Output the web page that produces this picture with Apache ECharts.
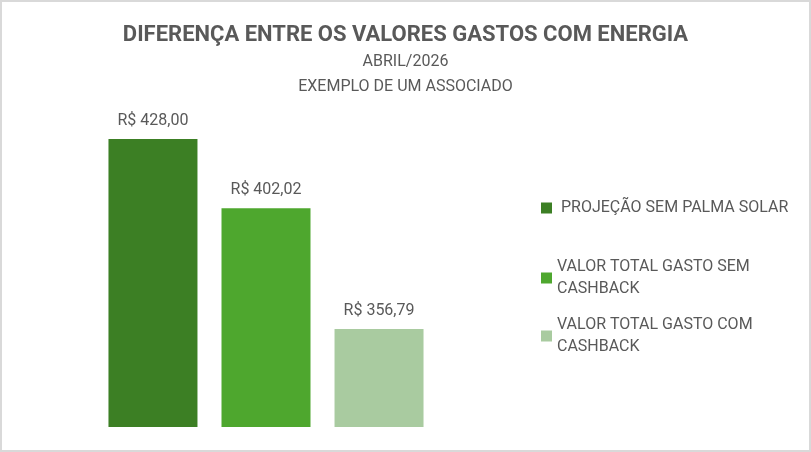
<!DOCTYPE html>
<html>
<head>
<meta charset="utf-8">
<script src="https://cdn.jsdelivr.net/npm/echarts@6/dist/echarts.min.js"></script>
<style>
  html, body { margin: 0; padding: 0; background: #fff; }
  #canva { width: 811px; height: 452px; }
</style>
</head>
<body>
<div id="canva"></div>
<script>
// ===== Chart data =====
const category = ['ABRIL/2026'];
const seriesNames = ['PROJEÇÃO SEM PALMA SOLAR', 'VALOR TOTAL GASTO SEM CASHBACK', 'VALOR TOTAL GASTO COM CASHBACK'];
const legendLabels = [' PROJEÇÃO SEM PALMA SOLAR', 'VALOR TOTAL GASTO SEM\nCASHBACK', 'VALOR TOTAL GASTO COM\nCASHBACK'];
const values = [428.00, 402.02, 356.79];
const colors = ['#3c7f24', '#4ea72e', '#a9cba0'];

const textColor = '#595959';
const font = 'Roboto';

// Brazilian currency format, e.g. R$ 402,02
function brl(v) {
    return 'R$ ' + v.toFixed(2).replace('.', ',');
}

// one series per bar, so each gets its own legend entry
let seriesData = [];
for (let i = 0; i < seriesNames.length; i++) {
    seriesData.push({
        name: seriesNames[i],
        type: 'bar',
        barWidth: 89,
        barGap: '27%',
        itemStyle: { color: colors[i] },
        label: {
            show: true,
            position: 'top',
            distance: 10,
            color: textColor,
            fontFamily: font,
            fontSize: 16,
            formatter: p => brl(p.value)
        },
        data: [values[i]]
    });
}

// legends placed one by one, icon lined up with the first text line
const legendTops = [192, 262, 320];
let legends = [];
for (let i = 0; i < seriesNames.length; i++) {
    const twoLines = legendLabels[i].indexOf('\n') >= 0;
    legends.push({
        data: [seriesNames[i]],
        left: 536,
        top: twoLines ? legendTops[i] - 22 : legendTops[i],
        icon: 'rect',
        itemWidth: 11,
        itemHeight: 11,
        selectedMode: false,
        formatter: () => legendLabels[i],
        textStyle: {
            color: textColor,
            fontFamily: font,
            fontSize: 16,
            lineHeight: 22,
            padding: twoLines ? [22, 0, 0, 0] : 0
        }
    });
}

var myChart = echarts.init(document.getElementById('canva'));
var option = {
    animation: false,
    title: [
        {
            text: 'DIFERENÇA ENTRE OS VALORES GASTOS COM ENERGIA',
            left: 'center',
            top: 19,
            textStyle: { color: textColor, fontFamily: font, fontSize: 22, fontWeight: 'bold' }
        },
        {
            text: 'ABRIL/2026\nEXEMPLO DE UM ASSOCIADO',
            left: 'center',
            top: 44,
            textStyle: { color: textColor, fontFamily: font, fontSize: 16, fontWeight: 'normal', lineHeight: 25 }
        }
    ],
    legend: legends,
    grid: {
        left: 108,
        width: 316,
        top: 107,
        bottom: 25
    },
    xAxis: {
        type: 'category',
        data: category,
        show: false
    },
    yAxis: {
        type: 'value',
        min: 320,
        max: 440,
        show: false
    },
    graphic: [
        {
            type: 'rect',
            shape: { x: 1, y: 1, width: 809, height: 450 },
            style: { fill: 'none', stroke: '#d9d9d9', lineWidth: 2 },
            silent: true
        }
    ],
    series: seriesData
};
myChart.setOption(option);
</script>
</body>
</html>
